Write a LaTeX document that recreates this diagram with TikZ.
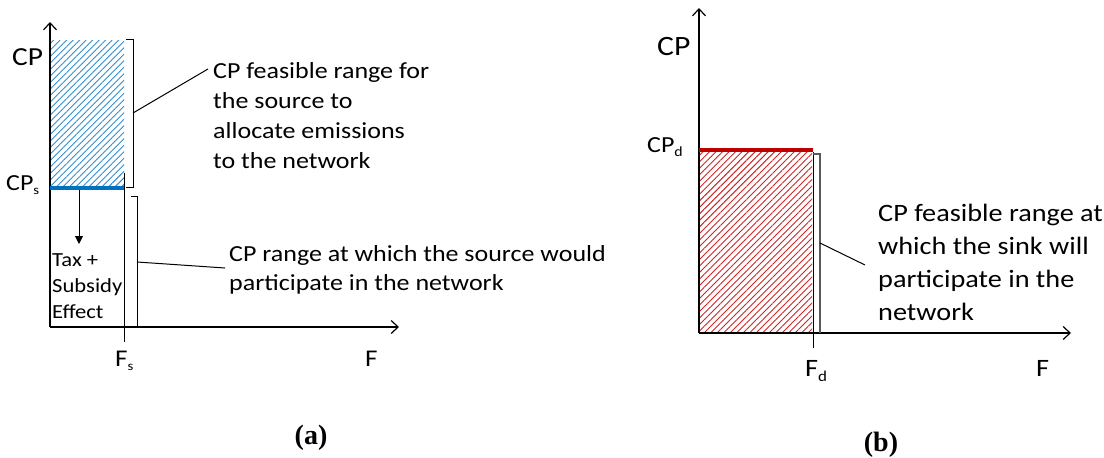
\documentclass[tikz,border=0pt]{standalone}
\usepackage{fontspec}
\setmainfont{Carlito}[FakeStretch=1.13]
\newfontfamily\capfont{Liberation Serif}
\usetikzlibrary{arrows.meta,patterns.meta}
\definecolor{hblue}{RGB}{0,112,192}
\definecolor{hred}{RGB}{192,0,0}
\tikzset{
  axis/.style={line width=1.2pt,-{Straight Barb[length=7pt,width=13pt,line width=1.2pt]}},
  thin line/.style={line width=1pt},
  callout/.style={line width=1pt},
  lbl/.style={inner sep=0pt,anchor=base west},
  txt/.style={inner sep=0pt,anchor=north west,align=left},
  capt/.style={inner sep=0pt,font=\capfont\bfseries\fontsize{28}{28}\selectfont},
}
\newcommand{\fs}[2]{\fontsize{#1}{#2}\selectfont}
\begin{document}
\begin{tikzpicture}[x=1pt,y=-1pt]
\useasboundingbox (0,0) rectangle (1104,458);
% ---------------- panel (a) ----------------
\fill[pattern={Lines[angle=45,distance=4.6pt,line width=0.9pt]},pattern color=hblue!80] (50,40) rectangle (124,187);
\coordinate (ao) at (50,327);
\coordinate (ay) at (50,22);
\coordinate (ax) at (399,327);
\draw[axis] (ao) -- (ay);
\draw[axis] (ao) -- (ax);
\coordinate (csl) at (50,188);
\coordinate (csr) at (124,188);
\draw[hblue,line width=3.5pt] (csl) -- (csr);
% Fs line
\coordinate (fst) at (124,173);
\coordinate (fsb) at (124,342);
\draw[thin line] (fst) -- (fsb);
% bracket 1
\coordinate (b1a) at (126,39);
\coordinate (b1b) at (133,39);
\coordinate (b1c) at (133,187);
\coordinate (b1d) at (126,187);
\draw[thin line] (b1a) -- (b1b) -- (b1c) -- (b1d);
\coordinate (b1m) at (133,113);
\node[txt,font=\fs{23}{30}] (ta) at (213,62) {CP feasible range for\\the source to\\allocate emissions\\to the network};
\draw[callout] (b1m) -- ([shift={(-5,7)}]ta.north west);
% bracket 2
\coordinate (b2a) at (131,196);
\coordinate (b2b) at (137,196);
\coordinate (b2c) at (137,327);
\coordinate (b2d) at (131,327);
\draw[thin line] (b2a) -- (b2b) -- (b2c) -- (b2d);
\coordinate (b2m) at (137,262);
\node[txt,font=\fs{23}{29}] (tb) at (229,245) {CP range at which the source would\\participate in the network};
\draw[callout] (b2m) -- ([shift={(-4,23)}]tb.north west);
% tax arrow
\coordinate (tx0) at (79,190);
\coordinate (tx1) at (79,244);
\node[txt,font=\fs{20}{26}] (tax) at (52,253) {Tax +\\Subsidy\\Effect};
\draw[line width=1pt,-{Triangle[length=8pt,width=8pt]}] (tx0) -- (tx1);
% labels
\node[lbl,font=\fs{26}{26}] (cpa) at (12,65) {CP};
\node[lbl,font=\fs{23}{23}] (cps) at (6,190) {CP\raisebox{-4pt}{\fs{13}{13}s}};
\node[lbl,font=\fs{24}{24}] (fs) at (115,366) {F\raisebox{-4pt}{\fs{13}{13}s}};
\node[lbl,font=\fs{24}{24}] (fa) at (365,366) {F};
\node[capt] (capa) at (311,438) {(a)};
% ---------------- panel (b) ----------------
\fill[pattern={Lines[angle=45,distance=4.6pt,line width=0.9pt]},pattern color=hred!85] (699,150) rectangle (812,333);
\coordinate (bo) at (699,333);
\coordinate (by) at (699,8);
\coordinate (bx) at (1071,333);
\draw[axis] (bo) -- (by);
\draw[axis] (bo) -- (bx);
\coordinate (cdl) at (699,150);
\coordinate (cdr) at (813,150);
\draw[hred,line width=4pt] (cdl) -- (cdr);
\coordinate (fdt) at (813,152);
\coordinate (fdb) at (813,348);
\draw[thin line] (fdt) -- (fdb);
\coordinate (b3a) at (813,154);
\coordinate (b3b) at (820,154);
\coordinate (b3c) at (820,333);
\draw[line width=1.4pt,black!65] (b3a) -- (b3b) -- (b3c);
\coordinate (b3m) at (820,243);
\node[txt,font=\fs{25}{33}] (tc) at (878,204) {CP feasible range at\\which the sink will\\participate in the\\network};
\draw[callout] (b3m) -- ([shift={(-13,61)}]tc.north west);
\node[lbl,font=\fs{28}{28}] (cpb) at (657,55) {CP};
\node[lbl,font=\fs{23}{23}] (cpd) at (647,152) {CP\raisebox{-4pt}{\fs{14}{14}d}};
\node[lbl,font=\fs{25}{25}] (fd) at (805,376) {F\raisebox{-5pt}{\fs{15}{15}d}};
\node[lbl,font=\fs{25}{25}] (fb) at (1036,376) {F};
\node[capt] (capb) at (881,445) {(b)};
\end{tikzpicture}
\end{document}
